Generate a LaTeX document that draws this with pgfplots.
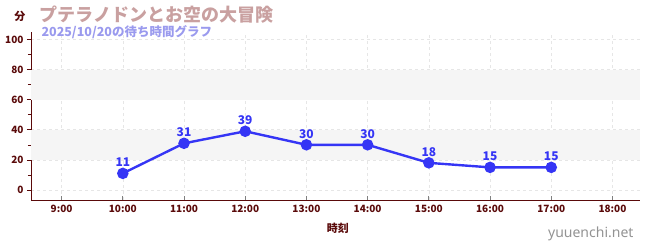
\documentclass[border=0pt]{standalone}
\usepackage{fontspec}
\setmainfont{Noto Sans CJK JP}
\newfontfamily\latinfont{Noto Sans}
\usepackage{pgfplots}
\pgfplotsset{compat=1.18}
\usetikzlibrary{calc}
\definecolor{axred}{HTML}{5A0A0A}
\definecolor{titlecol}{HTML}{C9A0A0}
\definecolor{subcol}{HTML}{9A9AEE}
\definecolor{linecol}{HTML}{3535F5}
\definecolor{gridcol}{HTML}{E6E6E6}
\definecolor{bandcol}{HTML}{F5F5F5}
\begin{document}
\begin{tikzpicture}[x=1pt,y=1pt]
\begin{axis}[
  scale only axis, width=609pt, height=168pt,
  xmin=8.5, xmax=18.45, ymin=-6.7, ymax=105,
  axis lines=left, axis line style={-, draw=axred, line width=0.8pt},
  xtick={9,10,11,12,13,14,15,16,17,18},
  xticklabels={9:00,10:00,11:00,12:00,13:00,14:00,15:00,16:00,17:00,18:00},
  ytick={0,20,40,60,80,100},
  minor ytick={10,30,50,70,90},
  xtick align=inside, ytick align=outside,
  major tick length=4pt, minor tick length=3pt,
  xtick style={draw=gray, line width=0.8pt},
  ytick style={draw=axred, line width=0.6pt},
  minor tick style={draw=red, line width=0.6pt},
  ticklabel style={font=\fontsize{10}{11}\selectfont\bfseries, text=axred},
  xticklabel style={yshift=-2pt},
  /pgf/number format/assume math mode=true,
  grid=major,
  major grid style={draw=gridcol, dash pattern=on 3pt off 3pt, line width=0.6pt},
  xlabel={時刻},
  xlabel style={font=\fontsize{11}{12}\selectfont\bfseries, text=axred, at={(ticklabel cs:0.504)}, yshift=-3pt},
  clip=false,
]
\coordinate (O) at (rel axis cs:0,0);
\fill[bandcol] (axis cs:8.5,20) rectangle (axis cs:18.45,40);
\fill[bandcol] (axis cs:8.5,60) rectangle (axis cs:18.45,80);
\addplot[color=linecol, line width=2.4pt, mark=*, mark size=4.5pt,
  mark options={fill=linecol, draw=linecol},
  nodes near coords,
  nodes near coords style={font=\fontsize{12}{13}\selectfont\bfseries, text=linecol, yshift=2pt}]
  coordinates {(10,11) (11,31) (12,39) (13,30) (14,30) (15,18) (16,15) (17,15)};
\end{axis}
\coordinate (BL) at ($(O)+(-31,-50)$);
\node[anchor=west, text=titlecol, font=\fontsize{18}{19}\selectfont\bfseries] at ($(BL)+(36,235)$) {プテラノドンとお空の大冒険};
\node[anchor=west, text=subcol, font=\fontsize{12.5}{13}\selectfont\bfseries] at ($(BL)+(38,218)$) {2025/10/20の待ち時間グラフ};
\node[anchor=center, text=axred, font=\fontsize{11}{12}\selectfont\bfseries] at ($(BL)+(20,234)$) {分};
\node[anchor=east, text=gray!85, font=\latinfont\fontsize{14}{15}\selectfont] at ($(BL)+(637,16)$) {yuuenchi.net};
\pgfresetboundingbox
\path[use as bounding box] (BL) rectangle ($(BL)+(650,250)$);
\end{tikzpicture}
\end{document}
